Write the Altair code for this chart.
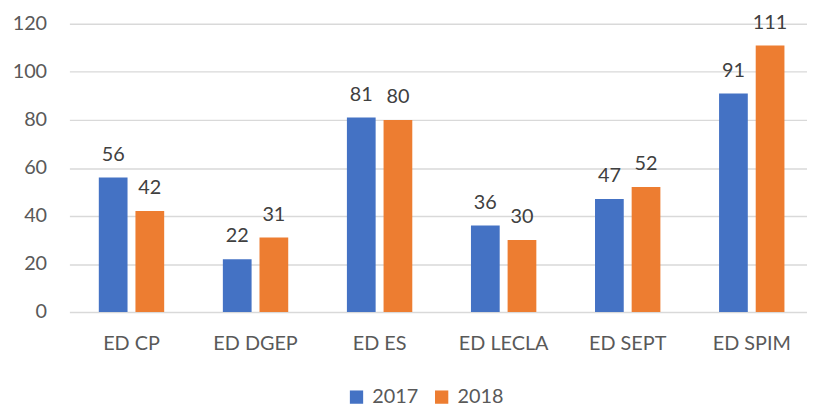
import altair as alt
import pandas as pd

categories = ["ED CP", "ED DGEP", "ED ES", "ED LECLA", "ED SEPT", "ED SPIM"]
v2017 = [56, 22, 81, 36, 47, 91]
v2018 = [42, 31, 80, 30, 52, 111]
years = ["2017", "2018"]
colors = ["#4472C4", "#ED7D31"]
y_ticks = [0, 20, 40, 60, 80, 100, 120]

rows = []
for c, a, b in zip(categories, v2017, v2018):
    rows.append({"cat": c, "year": "2017", "value": a})
    rows.append({"cat": c, "year": "2018", "value": b})
df = pd.DataFrame(rows)

FONT = "Lato"

x = alt.X(
    "cat:N", sort=categories, title=None,
    scale=alt.Scale(paddingInner=0.473, paddingOuter=0.2095, align=0.566),
    axis=alt.Axis(labelAngle=0, labelFontSize=20, labelColor="#595959", labelFont=FONT,
                  ticks=False, domain=False, labelPadding=22, grid=False),
)
xo = alt.XOffset("year:N", sort=years, scale=alt.Scale(paddingInner=0.216, paddingOuter=0))
y = alt.Y(
    "value:Q", title=None,
    scale=alt.Scale(domain=[0, 120], nice=False),
    axis=alt.Axis(values=y_ticks, grid=True, gridColor="#d9d9d9", gridWidth=1.5,
                  domain=False, ticks=False, labelPadding=23, labelFontSize=20,
                  labelColor="#595959", labelFont=FONT),
)

bars = alt.Chart(df).mark_bar().encode(
    x=x, xOffset=xo, y=y,
    color=alt.Color(
        "year:N", sort=years, title=None,
        scale=alt.Scale(domain=years, range=colors),
        legend=alt.Legend(orient="none", legendX=280, legendY=367, direction="horizontal",
                          symbolType="square", symbolSize=180, symbolStrokeWidth=0,
                          labelFontSize=20, labelColor="#595959", labelFont=FONT,
                          labelOffset=6, columnPadding=13),
    ),
)

labels = alt.Chart(df).mark_text(
    baseline="alphabetic", dy=-17, fontSize=20, color="#404040", font=FONT
).encode(x=x, xOffset=xo, y=y, text=alt.Text("value:Q"))

chart = alt.layer(bars, labels).properties(
    width=745, height=291,
    padding={"left": 62, "top": 14, "right": 0, "bottom": 96},
    autosize=alt.AutoSizeParams(type="none"),
).configure_view(stroke=None)

chart.save("out.html", embed_options={"renderer": "svg", "actions": False})
